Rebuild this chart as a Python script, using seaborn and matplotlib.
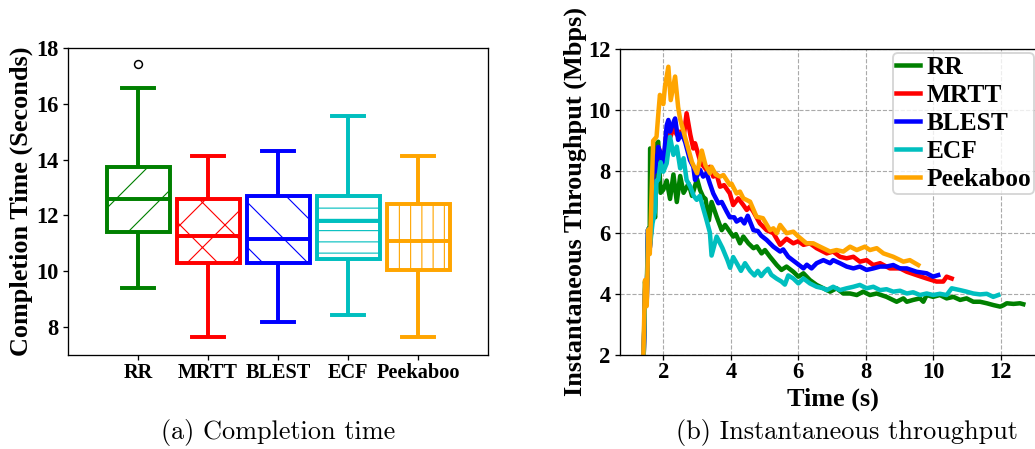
import numpy as np
import pandas as pd
import matplotlib
matplotlib.use("Agg")
import matplotlib.pyplot as plt
import seaborn as sns

# ---------------- data ----------------
categories = ["RR", "MRTT", "BLEST", "ECF", "Peekaboo"]
lower_whisker = [9.4, 7.63, 8.2, 8.43, 7.63]
q1 = [11.4, 10.3, 10.3, 10.45, 10.05]
median = [12.6, 11.27, 11.15, 11.8, 11.1]
q3 = [13.75, 12.6, 12.7, 12.7, 12.4]
upper_whisker = [16.55, 14.14, 14.3, 15.57, 14.14]
outlier_cat = ["RR"]
outlier_val = [17.43]

rr_t = [1.42, 1.46, 1.50, 1.55, 1.60, 1.61, 1.67, 1.72, 1.76, 1.80, 1.85, 1.92, 2.0, 2.1, 2.2, 2.3, 2.4, 2.5,
        2.6, 2.75, 2.85, 3.0, 3.09, 3.18, 3.25, 3.35, 3.43, 3.58, 3.73, 3.83, 3.97, 4.07, 4.15, 4.27, 4.37,
        4.52, 4.67, 4.77, 4.91, 5.01, 5.16, 5.36, 5.5, 5.65, 5.85, 6.0, 6.15, 6.34, 6.54, 6.74, 6.94, 7.13,
        7.33, 7.53, 7.73, 7.92, 8.12, 8.32, 8.61, 8.91, 9.11, 9.21, 9.4, 9.6, 9.7, 9.8, 9.99, 10.19, 10.39,
        10.59, 10.79, 10.98, 11.18, 11.38, 11.58, 11.78, 11.98, 12.08, 12.17, 12.37, 12.56, 12.66]
rr_v = [2.0, 4.4, 3.7, 6.1, 6.2, 8.75, 8.65, 6.6, 6.5, 8.9, 8.97, 7.3, 7.4, 7.7, 7.1, 7.9, 7.0, 7.85,
        7.3, 7.6, 7.2, 7.75, 7.39, 7.17, 7.1, 6.4, 7.0, 6.52, 6.08, 6.25, 6.03, 5.87, 5.95, 5.65, 5.87,
        5.65, 5.49, 5.55, 5.32, 5.43, 5.21, 4.94, 4.78, 4.89, 4.72, 4.56, 4.67, 4.45, 4.29, 4.18, 4.07, 4.18,
        4.01, 4.01, 3.96, 4.07, 3.96, 4.01, 3.9, 3.74, 3.85, 3.74, 3.8, 3.85, 3.74, 3.96, 3.9, 3.96, 3.85,
        3.9, 3.8, 3.85, 3.74, 3.74, 3.69, 3.63, 3.58, 3.63, 3.69, 3.67, 3.69, 3.66]

mrtt_t = [1.42, 1.47, 1.51, 1.55, 1.6, 1.65, 1.72, 1.78, 1.85, 1.92, 2.0, 2.1, 2.2, 2.3, 2.4, 2.5, 2.6,
          2.69, 2.8, 2.89, 2.94, 3.1, 3.28, 3.38, 3.48, 3.58, 3.68, 3.8, 3.97, 4.07, 4.22, 4.37, 4.47, 4.57,
          4.67, 4.86, 5.06, 5.26, 5.46, 5.65, 5.85, 6.0, 6.15, 6.34, 6.54, 6.84, 7.03, 7.23, 7.43, 7.63, 7.82,
          8.02, 8.22, 8.42, 8.71, 9.01, 9.21, 9.5, 9.8, 10.09, 10.29, 10.39, 10.54]
mrtt_v = [2.0, 4.4, 3.8, 6.1, 5.5, 6.2, 8.5, 8.0, 8.8, 8.6, 8.2, 9.3, 9.1, 9.4, 9.2, 9.3, 9.1,
          9.9, 9.2, 8.75, 8.92, 8.3, 8.05, 8.15, 7.83, 7.9, 7.5, 7.55, 7.28, 6.9, 7.12, 6.9, 6.74, 6.85,
          6.68, 6.3, 6.08, 5.98, 5.6, 5.8, 5.65, 5.72, 5.6, 5.65, 5.49, 5.32, 5.38, 5.21, 5.16, 5.21, 5.05,
          5.1, 4.94, 5.0, 4.83, 4.83, 4.72, 4.61, 4.5, 4.4, 4.4, 4.56, 4.5]

blest_t = [1.42, 1.47, 1.51, 1.55, 1.6, 1.65, 1.72, 1.78, 1.85, 1.92, 2.0, 2.1, 2.15, 2.2, 2.3, 2.35,
           2.44, 2.55, 2.65, 2.79, 2.89, 2.94, 3.09, 3.18, 3.28, 3.38, 3.48, 3.63, 3.73, 3.88, 3.97, 4.1,
           4.17, 4.3, 4.4, 4.5, 4.67, 4.8, 4.9, 5.06, 5.26, 5.46, 5.55, 5.7, 5.95, 6.15, 6.25, 6.39, 6.54,
           6.74, 6.94, 7.03, 7.23, 7.43, 7.63, 7.82, 8.02, 8.22, 8.42, 8.61, 8.81, 9.01, 9.21, 9.5, 9.8,
           9.99, 10.14]
blest_v = [2.0, 4.4, 3.8, 6.1, 5.5, 6.2, 8.5, 8.0, 8.8, 8.6, 8.2, 9.5, 9.68, 9.3, 9.6, 9.73,
           9.03, 9.25, 8.95, 8.37, 8.15, 7.72, 8.05, 7.83, 7.94, 7.6, 7.28, 6.96, 7.0, 6.68, 6.5, 6.5,
           6.36, 6.45, 6.3, 6.55, 6.08, 6.05, 5.9, 5.76, 5.54, 5.38, 5.45, 5.21, 5.0, 4.83, 4.95, 4.83, 5.0,
           5.1, 5.0, 5.1, 5.0, 4.89, 4.83, 4.89, 4.78, 4.83, 4.89, 4.89, 4.94, 4.83, 4.83, 4.72, 4.67,
           4.56, 4.61]

ecf_t = [1.42, 1.47, 1.51, 1.55, 1.6, 1.68, 1.75, 1.8, 1.85, 1.92, 2.0, 2.1, 2.2, 2.3, 2.4, 2.5, 2.6,
         2.69, 2.8, 2.9, 2.99, 3.08, 3.18, 3.28, 3.38, 3.43, 3.58, 3.75, 3.9, 3.98, 4.07, 4.2, 4.3, 4.42,
         4.57, 4.7, 4.8, 4.9, 5.0, 5.1, 5.2, 5.35, 5.5, 5.6, 5.7, 5.85, 6.0, 6.15, 6.34, 6.54, 6.74, 6.84,
         7.03, 7.23, 7.43, 7.63, 7.82, 8.02, 8.22, 8.42, 8.61, 8.81, 9.01, 9.21, 9.4, 9.6, 9.8, 9.99, 10.19,
         10.39, 10.54, 10.79, 10.98, 11.18, 11.38, 11.58, 11.77, 11.92]
ecf_v = [2.0, 4.4, 3.8, 6.1, 5.5, 6.3, 6.68, 7.7, 7.72, 8.3, 7.99, 8.26, 9.13, 8.54, 8.81, 8.1, 8.43,
         7.72, 7.5, 7.2, 7.07, 7.2, 6.8, 6.41, 6.0, 5.25, 5.87, 5.5, 5.1, 4.85, 5.2, 4.95, 4.75, 5.0,
         4.75, 4.6, 4.75, 4.58, 4.72, 4.82, 4.62, 4.5, 4.4, 4.3, 4.6, 4.5, 4.34, 4.5, 4.34, 4.23, 4.18, 4.12,
         4.23, 4.12, 4.18, 4.23, 4.29, 4.18, 4.23, 4.12, 4.15, 4.07, 4.1, 4.01, 4.05, 3.96, 4.01, 3.96, 4.0,
         3.96, 4.18, 4.12, 4.07, 4.01, 3.98, 4.0, 3.9, 3.96]

peek_t = [1.41, 1.46, 1.51, 1.56, 1.6, 1.7, 1.8, 1.85, 1.9, 2.0, 2.05, 2.15, 2.22, 2.35, 2.44, 2.5, 2.6,
          2.7, 2.85, 3.0, 3.14, 3.25, 3.38, 3.43, 3.55, 3.68, 3.78, 3.97, 4.02, 4.17, 4.27, 4.37, 4.57,
          4.76, 4.95, 5.16, 5.26, 5.36, 5.46, 5.65, 5.85, 6.0, 6.24, 6.44, 6.64, 6.94, 7.13, 7.33, 7.53,
          7.73, 7.97, 8.12, 8.32, 8.52, 8.81, 9.11, 9.3, 9.55]
peek_v = [2.0, 4.45, 3.6, 6.1, 5.3, 9.0, 9.13, 9.84, 10.5, 10.2, 10.77, 11.42, 10.33, 11.1, 10.1, 9.7, 9.3,
          8.9, 8.3, 7.94, 8.68, 8.2, 7.94, 8.15, 7.9, 7.83, 7.88, 7.56, 7.6, 7.28, 7.34, 7.12, 7.01,
          6.52, 6.47, 6.08, 6.14, 5.98, 6.25, 5.98, 6.03, 5.87, 5.65, 5.65, 5.54, 5.38, 5.43, 5.38, 5.54,
          5.43, 5.54, 5.43, 5.49, 5.32, 5.21, 5.05, 5.1, 4.94]

# ---------------- style ----------------
DPI = 135
plt.rcParams["font.family"] = ["Liberation Serif", "DejaVu Serif"]
plt.rcParams["font.weight"] = "bold"
plt.rcParams["hatch.linewidth"] = 0.6
plt.rcParams["axes.linewidth"] = 0.7
plt.rcParams["xtick.major.size"] = 2.5
plt.rcParams["ytick.major.size"] = 2.5
plt.rcParams["xtick.major.width"] = 0.7
plt.rcParams["ytick.major.width"] = 0.7

colors = ["green", "red", "blue", "c", "orange"]
hatches = ["/", "x", "\\", "--", "||"]

W, H = 1035, 449
fig = plt.figure(figsize=(W / DPI, H / DPI), dpi=DPI)

def ax_rect(l, t, r, b):
    return [l / W, 1 - b / H, (r - l) / W, (b - t) / H]

# ---------------- left: box plot ----------------
ax1 = fig.add_axes(ax_rect(68, 48, 488, 355))
for i, cat in enumerate(categories):
    vals = [lower_whisker[i], q1[i], median[i], q3[i], upper_whisker[i]]
    n_before = len(ax1.patches)
    sns.boxplot(x=[cat] * len(vals), y=vals, order=categories, ax=ax1, width=0.9,
                whis=(0, 100), color="white", saturation=1, linecolor=colors[i],
                linewidth=2.1, showfliers=False)
    for p in ax1.patches[n_before:]:
        p.set_facecolor("white")
        p.set_hatch(hatches[i])
        p.set_edgecolor(colors[i])

sns.stripplot(x=outlier_cat, y=outlier_val, order=categories, ax=ax1, jitter=False,
              color="white", edgecolor="black", linewidth=0.8, size=4.2, zorder=5)

ax1.set_xlim(-1, 5)
ax1.set_ylim(7, 18)
ax1.set_yticks([8, 10, 12, 14, 16, 18])
ax1.set_xlabel("")
ax1.set_ylabel("Completion Time (Seconds)", fontsize=14, fontweight="bold")
ax1.yaxis.set_label_coords(-0.083, 0.5)
ax1.tick_params(axis="y", labelsize=12, pad=2.5)
ax1.tick_params(axis="x", labelsize=10.8, pad=2.0)
for lab in ax1.get_xticklabels() + ax1.get_yticklabels():
    lab.set_fontweight("bold")
for s in ax1.spines.values():
    s.set_visible(True)
    s.set_color("black")

# ---------------- right: throughput ----------------
ax2 = fig.add_axes(ax_rect(620, 49, 1045, 355))
series = [("RR", rr_t, rr_v), ("MRTT", mrtt_t, mrtt_v), ("BLEST", blest_t, blest_v),
          ("ECF", ecf_t, ecf_v), ("Peekaboo", peek_t, peek_v)]
df = pd.concat([pd.DataFrame({"Time": t, "Throughput": v, "Scheduler": name})
                for name, t, v in series], ignore_index=True)
sns.lineplot(data=df, x="Time", y="Throughput", hue="Scheduler", hue_order=categories,
             palette=colors, linewidth=2.4, estimator=None, sort=False, ax=ax2)

ax2.set_xlim(0.718, 0.718 + 425 / 33.77)
ax2.set_ylim(2, 12)
ax2.set_xticks([2, 4, 6, 8, 10, 12])
ax2.set_yticks([2, 4, 6, 8, 10, 12])
ax2.grid(True, linestyle="--", color="#aaaaaa", linewidth=0.6)
ax2.set_axisbelow(True)
ax2.set_xlabel("Time (s)", fontsize=14, fontweight="bold")
ax2.xaxis.set_label_coords(0.5, -0.105)
ax2.set_ylabel("Instantaneous Throughput (Mbps)", fontsize=14, fontweight="bold")
ax2.yaxis.set_label_coords(-0.078, 0.5)
ax2.tick_params(axis="y", labelsize=12, pad=2.5)
ax2.tick_params(axis="x", labelsize=12, pad=1.5)
for lab in ax2.get_xticklabels() + ax2.get_yticklabels():
    lab.set_fontweight("bold")

leg = ax2.legend(loc="upper left", bbox_to_anchor=(893 / W, 1 - 53 / H),
                 bbox_transform=fig.transFigure, borderaxespad=0, borderpad=0.12,
                 handlelength=0.93, handletextpad=0.28, labelspacing=0.2,
                 prop={"family": "Liberation Serif", "weight": "bold", "size": 13.5})
for line in leg.get_lines():
    line.set_linewidth(2.4)

# ---------------- captions ----------------
fig.text(278 / W, 1 - 432 / H, "(a) Completion time", ha="center", va="center",
         fontsize=14, family="cmr10", fontweight="normal")
fig.text(847 / W, 1 - 432 / H, "(b) Instantaneous throughput", ha="center", va="center",
         fontsize=14, family="cmr10", fontweight="normal")

fig.savefig("out.png", dpi=DPI)
